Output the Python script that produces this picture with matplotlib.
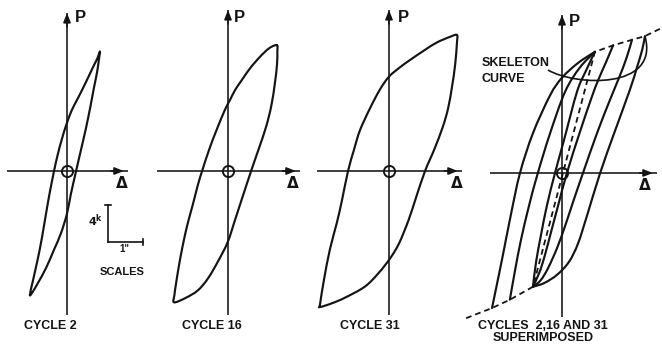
import matplotlib
matplotlib.use("Agg")
import matplotlib.pyplot as plt
from matplotlib.path import Path
from matplotlib.patches import PathPatch

# ---------------------------------------------------------------
# Load P (kips) versus deflection Δ (in) for the hysteresis loops
# (each loop: unloading branch from the positive tip, then reloading)
# ---------------------------------------------------------------
cycle2_disp = [0.94, 0.91, 0.86, 0.77, 0.66, 0.54, 0.40, 0.26, 0.11, 0.00, -0.17, -0.37,
               -0.60, -0.83, -0.97, -1.06, -0.97, -0.84, -0.73, -0.63, -0.53, -0.45,
               -0.37, -0.27, -0.15, -0.02, 0.14, 0.33, 0.54, 0.74, 0.87, 0.94]
cycle2_load = [12.9, 12.0, 10.7, 9.0, 6.8, 4.6, 2.3, 0.0, -2.5, -4.6, -6.7, -8.5,
               -10.5, -12.1, -13.0, -13.4, -11.8, -9.6, -7.5, -5.3, -3.1, -1.5,
               0.0, 1.7, 3.4, 5.0, 6.6, 8.0, 9.6, 11.2, 12.2, 12.9]

cycle16_disp = [1.40, 1.41, 1.40, 1.34, 1.24, 1.09, 0.87, 0.66, 0.39, 0.20, -0.01, -0.29,
                -0.57, -0.86, -1.20, -1.54, -1.53, -1.49, -1.40, -1.29, -1.16, -1.01,
                -0.86, -0.74, -0.54, -0.33, -0.09, 0.06, 0.21, 0.39, 0.59, 0.83, 1.06,
                1.23, 1.40]
cycle16_load = [13.6, 12.9, 11.5, 9.5, 7.1, 4.8, 2.3, 0.0, -3.1, -5.3, -7.7, -9.8,
                -11.6, -12.9, -13.7, -14.2, -13.4, -12.3, -10.2, -8.0, -5.8, -3.7,
                -1.5, 0.0, 2.3, 4.4, 6.6, 7.7, 8.8, 9.8, 10.9, 12.0, 12.9,
                13.4, 13.6]

cycle31_disp = [1.94, 1.94, 1.89, 1.80, 1.69, 1.54, 1.29, 1.03, 0.77, 0.56, 0.29, 0.04,
                -0.29, -0.69, -1.26, -1.63, -1.97, -1.97, -1.86, -1.69, -1.49, -1.34,
                -1.17, -1.00, -0.83, -0.54, -0.26, 0.00, 0.31, 0.60, 1.03, 1.37, 1.74, 1.94]
cycle31_load = [14.7, 13.8, 11.5, 9.1, 6.8, 4.8, 2.3, 0.0, -2.9, -5.3, -7.8, -9.4,
                -11.0, -12.5, -13.7, -14.3, -14.7, -14.4, -11.8, -8.5, -5.6, -3.1,
                0.0, 2.3, 4.4, 6.8, 8.8, 10.2, 11.2, 12.0, 13.1, 13.9, 14.5, 14.7]

# Skeleton (envelope) curve through the loop tips
skeleton_disp = [-2.74, -2.34, -2.00, -1.49, -0.83, 0.94, 1.46, 2.00, 2.37, 2.86]
skeleton_load = [-15.7, -15.1, -14.6, -13.7, -12.3, 13.1, 13.8, 14.4, 14.8, 15.7]

# Superimposed cycles: reloading branches (negative tip -> positive tip)
reload_a_disp = [-2.00, -1.89, -1.69, -1.46, -1.20, -0.83, -0.34, 0.00, 0.46, 0.94]
reload_a_load = [-14.6, -12.6, -8.9, -4.5, 0.0, 4.3, 8.4, 10.3, 11.9, 13.1]
reload_b_disp = [-1.49, -1.34, -1.17, -0.94, -0.69, -0.34, 0.09, 0.51, 0.94]
reload_b_load = [-13.7, -10.5, -7.2, -3.5, 0.0, 4.3, 8.8, 11.4, 13.1]
reload_c_disp = [-0.83, -0.74, -0.60, -0.43, -0.20, 0.06, 0.43, 0.69, 0.94]
reload_c_load = [-12.3, -9.6, -6.7, -3.5, 0.0, 3.6, 8.8, 11.1, 13.1]

# Superimposed cycles: unloading branches (positive tip -> negative tip)
unload_a_disp = [2.37, 2.29, 2.14, 1.94, 1.49, 1.09, 0.74, 0.46, 0.20, -0.14, -0.51, -0.83]
unload_a_load = [14.8, 13.3, 11.4, 9.0, 4.3, 0.0, -4.3, -7.6, -9.6, -11.0, -11.9, -12.3]
unload_b_disp = [2.00, 1.84, 1.63, 1.37, 1.00, 0.60, 0.31, 0.10, -0.14, -0.40, -0.61, -0.83]
unload_b_load = [14.4, 12.4, 10.3, 7.9, 4.3, 0.0, -3.2, -5.6, -8.1, -10.3, -11.6, -12.3]
unload_c_disp = [1.46, 1.26, 1.04, 0.84, 0.50, 0.14, -0.11, -0.30, -0.49, -0.64, -0.83]
unload_c_load = [13.8, 12.0, 10.1, 8.1, 4.3, 0.0, -3.5, -6.2, -8.9, -10.7, -12.3]

# Scale bar values
scale_load = 4.0   # kips
scale_disp = 1.0   # in

panel_titles = ["CYCLE 2", "CYCLE 16", "CYCLE 31", "CYCLES  2,16 AND 31\nSUPERIMPOSED"]

# ---------------------------------------------------------------
# Figure set-up: every panel shares one drawing scale
# ---------------------------------------------------------------
W, H = 662, 350
PX_IN = 35.0     # pixels per inch of deflection
PX_KIP = 9.25    # pixels per kip of load
INK = "#141414"
LOOP_LW = 1.55
AXIS_LW = 1.15
FONT = ["Liberation Sans", "DejaVu Sans"]

fig = plt.figure(figsize=(W / 100, H / 100), dpi=100)
fig.patch.set_facecolor("white")


def make_panel(ox, oy):
    ax = fig.add_axes([0, 0, 1, 1])
    ax.set_xlim(-ox / PX_IN, (W - ox) / PX_IN)
    ax.set_ylim((oy - H) / PX_KIP, oy / PX_KIP)
    ax.set_axis_off()
    ax.patch.set_visible(False)
    return ax


def draw_axes(ax, ox, oy, top, bottom, left, right):
    p_top = (oy - top) / PX_KIP
    p_bot = (oy - bottom) / PX_KIP
    d_left = (left - ox) / PX_IN
    d_right = (right - ox) / PX_IN
    ax.plot([0, 0], [p_bot, p_top], color=INK, lw=AXIS_LW, solid_capstyle="butt")
    ax.plot([d_left, d_right], [0, 0], color=INK, lw=AXIS_LW, solid_capstyle="butt")
    head = dict(arrowstyle="-|>,head_length=0.55,head_width=0.22", color=INK,
                lw=AXIS_LW, shrinkA=0, shrinkB=0)
    ax.annotate("", xy=(0, p_top), xytext=(0, p_top - 1.5), arrowprops=head)
    ax.annotate("", xy=(d_right - 0.12, 0), xytext=(d_right - 0.5, 0), arrowprops=head)
    ax.plot(0, 0, "o", ms=8, mfc="none", mec=INK, mew=1.4)


def smooth_path(xs, ys, closed):
    """Catmull-Rom curve through the given points, as cubic Bezier segments."""
    pts = list(zip(xs, ys))
    if closed:
        pts = pts[:-1]
        n = len(pts)

        def get(i):
            return pts[i % n]
        segs = range(n)
    else:
        n = len(pts)

        def get(i):
            return pts[min(max(i, 0), n - 1)]
        segs = range(n - 1)
    verts = [get(0)]
    codes = [Path.MOVETO]
    for i in segs:
        p0, p1, p2, p3 = get(i - 1), get(i), get(i + 1), get(i + 2)
        c1 = (p1[0] + (p2[0] - p0[0]) / 6, p1[1] + (p2[1] - p0[1]) / 6)
        c2 = (p2[0] - (p3[0] - p1[0]) / 6, p2[1] - (p3[1] - p1[1]) / 6)
        verts += [c1, c2, p2]
        codes += [Path.CURVE4] * 3
    return Path(verts, codes)


def curve(ax, d, p, closed=False):
    ax.add_patch(PathPatch(smooth_path(d, p, closed), fill=False, edgecolor=INK,
                           lw=LOOP_LW, capstyle="round", joinstyle="round"))


# panel origins (pixel) and axis extents
layout = [
    dict(o=(67, 171), top=13, bottom=315, left=7, right=128),
    dict(o=(228, 171), top=10, bottom=315, left=157, right=300),
    dict(o=(389, 171), top=10, bottom=315, left=317, right=462),
    dict(o=(562, 173), top=15, bottom=317, left=490, right=657),
]

axes = []
for spec in layout:
    ox, oy = spec["o"]
    ax = make_panel(ox, oy)
    draw_axes(ax, ox, oy, spec["top"], spec["bottom"], spec["left"], spec["right"])
    axes.append(ax)

ax1, ax2, ax3, ax4 = axes
curve(ax1, cycle2_disp, cycle2_load, closed=True)
curve(ax2, cycle16_disp, cycle16_load, closed=True)
curve(ax3, cycle31_disp, cycle31_load, closed=True)

# superimposed panel
ax4.plot(skeleton_disp, skeleton_load, color=INK, lw=1.3, ls=(0, (3.2, 2.2)))
for d, p in [(reload_a_disp, reload_a_load), (reload_b_disp, reload_b_load),
             (reload_c_disp, reload_c_load), (unload_a_disp, unload_a_load),
             (unload_b_disp, unload_b_load), (unload_c_disp, unload_c_load)]:
    curve(ax4, d, p)

# scale bar in the first panel
sx0, sy0 = 1.17, -7.7
ax1.plot([sx0, sx0], [sy0, sy0 + scale_load], color=INK, lw=1.2)
ax1.plot([sx0 - 0.08, sx0 + 0.08], [sy0 + scale_load] * 2, color=INK, lw=1.2)
ax1.plot([sx0, sx0 + scale_disp], [sy0, sy0], color=INK, lw=1.2)
ax1.plot([sx0 + scale_disp] * 2, [sy0 - 0.35, sy0 + 0.35], color=INK, lw=1.2)

# ---------------------------------------------------------------
# Lettering (overlay in pixel units)
# ---------------------------------------------------------------
ov = fig.add_axes([0, 0, 1, 1])
ov.set_xlim(0, W)
ov.set_ylim(H, 0)
ov.set_axis_off()
ov.patch.set_visible(False)

txt = dict(color=INK, fontweight="bold", family=FONT)
for (x, y), s in zip([(50, 326), (212, 326), (370, 326), (543, 332)], panel_titles):
    ov.text(x, y, s, ha="center", va="center", fontsize=9, linespacing=1.0, **txt)

for x, y in [(80, 18), (239, 18), (403, 18), (574, 22)]:
    ov.text(x, y, "P", ha="center", va="center", fontsize=12, **txt)
for x, y in [(122, 184), (293, 184), (457, 184), (645, 186)]:
    ov.text(x, y, "Δ", ha="center", va="center", fontsize=11,
            color=INK, fontweight="bold", family="DejaVu Sans")

ov.text(122, 272, "SCALES", ha="center", va="center", fontsize=8, **txt)
ov.text(96, 221, r"$\mathbf{4^{k}}$", ha="center", va="center", fontsize=8, color=INK)
ov.text(124, 249, '1"', ha="center", va="center", fontsize=7, **txt)

ov.text(482, 63, "SKELETON", ha="left", va="center", fontsize=9, **txt)
ov.text(482, 79, "CURVE", ha="left", va="center", fontsize=9, **txt)

# curved leader from the label to the end of the skeleton curve
end_disp = ax4.transData.transform((unload_a_disp[0], unload_a_load[0]))
ex, ey = ov.transData.inverted().transform(end_disp)
leader = Path([(548, 70), (575, 86), (660, 90), (ex, ey)],
              [Path.MOVETO, Path.CURVE4, Path.CURVE4, Path.CURVE4])
ov.add_patch(PathPatch(leader, fill=False, edgecolor=INK, lw=1.2))

fig.savefig("out.png", dpi=100, facecolor="white")
